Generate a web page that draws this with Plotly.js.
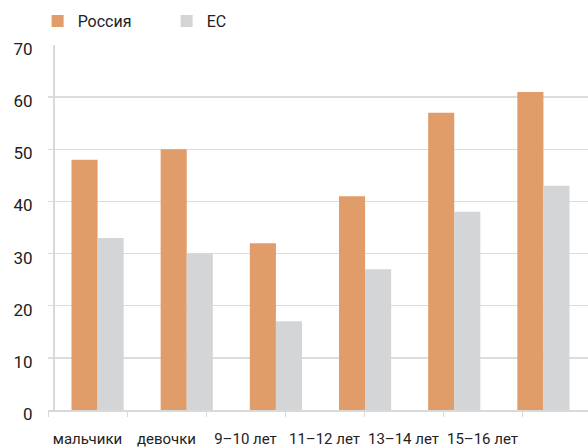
<!DOCTYPE html>
<html><head><meta charset="utf-8">
<script src="https://cdn.plot.ly/plotly-3.0.1.min.js"></script>
<style>html,body{margin:0;padding:0;background:#fff}</style>
</head><body>
<div id="chart" style="width:588px;height:448px"></div>
<script>
var categories = ["мальчики", "девочки", "9–10 лет", "11–12 лет", "13–14 лет", "15–16 лет"];
var russia = [48, 50, 32, 41, 57, 61];
var eu = [33, 30, 17, 27, 38, 43];
var seriesNames = ["Россия", "ЕС"];
var yTicks = [0, 10, 20, 30, 40, 50, 60, 70];

var font = "Roboto, 'DejaVu Sans', sans-serif";
var labelPos = categories.map(function(c, i){ return i + 0.5; });

var data = [
  {type: "bar", name: seriesNames[0], x: categories, y: russia, marker: {color: "#E09C69"}, xaxis: "x", yaxis: "y", hoverinfo: "none"},
  {type: "bar", name: seriesNames[1], x: categories, y: eu, marker: {color: "#D4D5D7"}, xaxis: "x", yaxis: "y", hoverinfo: "none"},
  {type: "scatter", mode: "none", x: labelPos, y: [0,0,0,0,0,0], xaxis: "x2", yaxis: "y", showlegend: false, hoverinfo: "none"}
];

var layout = {
  width: 588, height: 448,
  margin: {l: 48, r: 0, t: 45, b: 38, autoexpand: false},
  paper_bgcolor: "#fff", plot_bgcolor: "#fff",
  font: {family: font, color: "#222", size: 14},
  barmode: "group",
  bargap: 0.415,
  bargroupgap: 0,
  showlegend: true,
  legend: {orientation: "h", xref: "container", x: 0.064, xanchor: "left", yref: "container", y: 1 - 21/448, yanchor: "middle",
           font: {family: font, size: 16, color: "#222"}, traceorder: "normal", itemwidth: 30,
           entrywidth: 84, entrywidthmode: "pixels"},
  xaxis: {type: "category", domain: [0, 1], range: [-0.556, 5.5], showticklabels: false,
          showgrid: false, zeroline: false, showline: false, ticks: ""},
  xaxis2: {overlaying: "x", anchor: "y", domain: [0, 1], range: [0, 540/79], type: "linear",
           tickmode: "array", tickvals: labelPos, ticktext: categories, ticks: "", ticklabelstandoff: 14,
           showgrid: false, zeroline: false, showline: true, linecolor: "#d9d9d9", linewidth: 1.5,
           tickfont: {family: font, size: 15, color: "#222"},
           minor: {tick0: 0, dtick: 1, ticks: "outside", ticklen: 5, tickcolor: "#d9d9d9", tickwidth: 1, showgrid: false}},
  yaxis: {range: [0, 70], tickmode: "array", tickvals: yTicks, anchor: "free", position: 5/540,
          showline: true, linecolor: "#d9d9d9", linewidth: 1.5, gridcolor: "#dcdcdc", gridwidth: 1.5,
          zeroline: false, ticks: "", ticklabelstandoff: 17, ticklabelshift: 4,
          tickfont: {family: font, size: 17, color: "#222"}}
};

Plotly.newPlot("chart", data, layout, {staticPlot: true, displayModeBar: false});
</script>
</body></html>
